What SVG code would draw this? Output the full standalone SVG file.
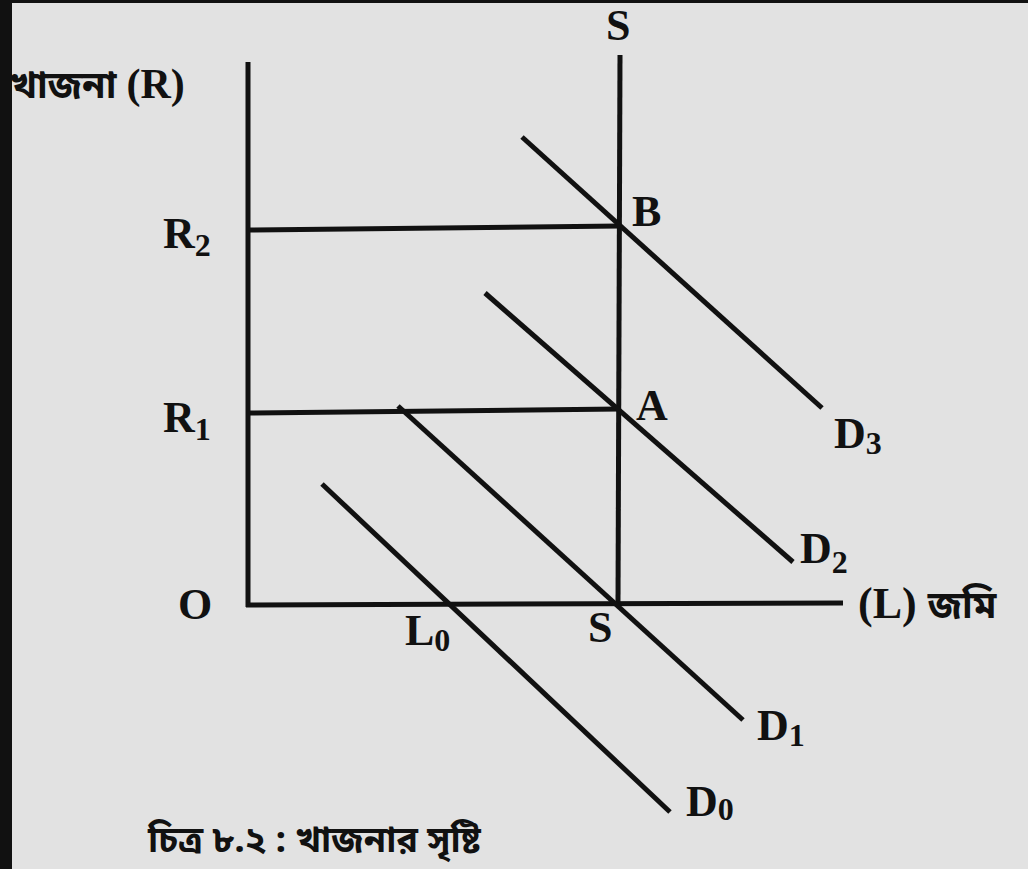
<svg xmlns="http://www.w3.org/2000/svg" width="1028" height="869" viewBox="0 0 1028 869">
<style>
.ln{stroke:#111;stroke-width:5;fill:none;stroke-linecap:butt}
.t{font-family:"Liberation Serif","Noto Serif Bengali","Noto Sans Bengali","Noto Sans",serif;font-weight:bold;fill:#111;font-size:44px}
.b{font-family:"Noto Sans Bengali","Noto Serif Bengali","Noto Sans","Liberation Serif",sans-serif;font-weight:bold;fill:#111}
.sub{font-size:32px}
</style>
<rect x="0" y="0" width="1028" height="869" fill="#111"/>
<rect x="12" y="3" width="1016" height="866" fill="#e2e2e2"/>
<g id="axes">
<line class="ln" x1="248" y1="62" x2="248" y2="607"/>
<line class="ln" x1="246" y1="605" x2="843" y2="603"/>
</g>
<g id="connectors">
<line class="ln" x1="620" y1="55" x2="618" y2="605"/>
<line class="ln" x1="250" y1="230" x2="620" y2="226"/>
<line class="ln" x1="250" y1="413" x2="620" y2="409"/>
<line class="ln" x1="522" y1="137" x2="822" y2="408"/>
<line class="ln" x1="485" y1="293" x2="793" y2="562"/>
<line class="ln" x1="398" y1="406" x2="743" y2="720"/>
<line class="ln" x1="322" y1="484" x2="670" y2="812"/>
</g>
<g id="labels">
<text class="t" x="606" y="40">S</text>
<text class="b" x="10" y="98" font-size="38">খাজনা <tspan font-family="Liberation Serif" font-size="42">(R)</tspan></text>
<text class="t" x="163" y="248">R<tspan class="sub" dy="8">2</tspan></text>
<text class="t" x="163" y="432">R<tspan class="sub" dy="8">1</tspan></text>
<text class="t" x="632" y="226">B</text>
<text class="t" x="636" y="420">A</text>
<text class="t" x="834" y="448">D<tspan class="sub" dy="6">3</tspan></text>
<text class="t" x="800" y="563">D<tspan class="sub" dy="10">2</tspan></text>
<text class="t" x="858" y="618" font-size="40">(L) <tspan class="b" font-size="38">জমি</tspan></text>
<text class="t" x="178" y="619">O</text>
<text class="t" x="405" y="645">L<tspan class="sub" dy="6">0</tspan></text>
<text class="t" x="588" y="642">S</text>
<text class="t" x="757" y="740">D<tspan class="sub" dy="6">1</tspan></text>
<text class="t" x="686" y="816">D<tspan class="sub" dy="4">0</tspan></text>
<text class="b" x="148" y="852" font-size="36">চিত্র ৮.২ : খাজনার সৃষ্টি</text>
</g>
</svg>
